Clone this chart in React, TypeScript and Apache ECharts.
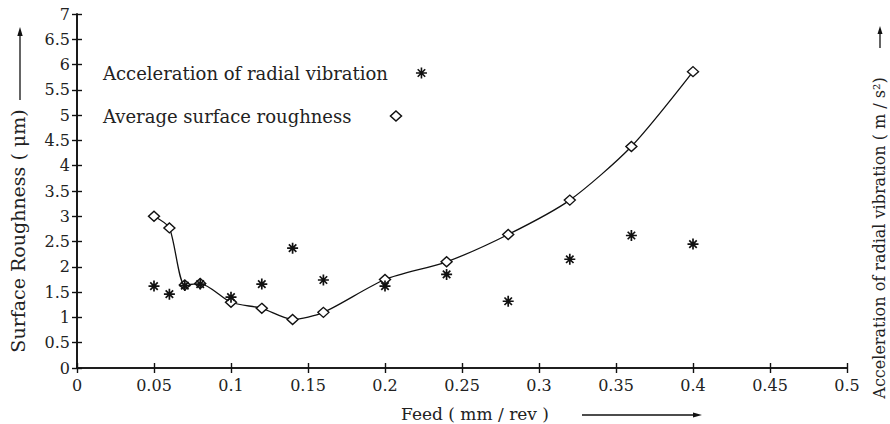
import React, { useEffect, useRef } from "react";
import * as echarts from "echarts";

const feed = [0.05, 0.06, 0.07, 0.08, 0.1, 0.12, 0.14, 0.16, 0.2, 0.24, 0.28, 0.32, 0.36, 0.4];
const roughness = [3.0, 2.77, 1.64, 1.67, 1.3, 1.18, 0.96, 1.1, 1.75, 2.1, 2.64, 3.32, 4.38, 5.86];
const acceleration = [1.62, 1.46, 1.63, 1.66, 1.4, 1.66, 2.37, 1.74, 1.62, 1.85, 1.32, 2.15, 2.62, 2.45];

const accelName = "Acceleration of radial vibration";
const roughName = "Average surface roughness";
const xTitle = "Feed ( mm / rev )";
const yTitle = "Surface Roughness ( \u03bcm)";
const y2Title = "Acceleration of radial vibration ( m / s\u00b2)";

const FONT = "'DejaVu Serif', 'Liberation Serif', serif";
const ASTERISK = "path://M5,0L5,10M0,5L10,5M1.6,1.6L8.4,8.4M1.6,8.4L8.4,1.6";

export default function App() {
  const ref = useRef<HTMLDivElement>(null);
  useEffect(() => {
    if (!ref.current) return;
    const chart = echarts.init(ref.current, null, { renderer: "svg" });
    const axisCommon = {
      type: "value" as const,
      splitLine: { show: false },
      axisLine: { show: true, lineStyle: { color: "#111", width: 1.6 } },
      axisTick: { show: true, inside: true, length: 5, lineStyle: { color: "#111", width: 1.4 } },
    };
    const arrowHead = (pts: number[][]) => ({
      type: "polygon",
      shape: { points: pts },
      style: { fill: "#111" },
    });
    chart.setOption({
      animation: false,
      backgroundColor: "#fff",
      textStyle: { fontFamily: FONT },
      grid: { left: 77, right: 43, top: 14, bottom: 56, containLabel: false },
      xAxis: [
        {
          ...axisCommon,
          position: "bottom",
          min: 0,
          max: 0.5,
          interval: 0.05,
          axisLabel: { margin: 9, color: "#222", fontSize: 16, fontFamily: FONT },
        },
        {
          ...axisCommon,
          position: "top",
          min: 0,
          max: 0.5,
          interval: 0.05,
          axisLabel: { show: false },
        },
      ],
      yAxis: [
        {
          ...axisCommon,
          position: "left",
          min: 0,
          max: 7,
          interval: 0.5,
          axisLabel: { margin: 7, color: "#222", fontSize: 16, fontFamily: FONT },
        },
        {
          ...axisCommon,
          position: "right",
          min: 0,
          max: 7,
          interval: 0.5,
          axisLabel: { show: false },
        },
      ],
      legend: [
        {
          left: 103,
          top: 64,
          padding: 0,
          itemWidth: 11,
          itemHeight: 11,
          align: "right",
          textStyle: { fontSize: 18, fontFamily: FONT, color: "#222", padding: [0, 23, 0, 0] },
          data: [
            {
              name: accelName,
              icon: ASTERISK,
              itemStyle: { color: "#111", borderColor: "#111", borderWidth: 1.6 },
            },
          ],
        },
        {
          left: 103,
          top: 107,
          padding: 0,
          itemWidth: 11,
          itemHeight: 10,
          align: "right",
          textStyle: { fontSize: 18, fontFamily: FONT, color: "#222", padding: [0, 34, 0, 0] },
          data: [
            {
              name: roughName,
              icon: "diamond",
              itemStyle: { color: "#fff", borderColor: "#111", borderWidth: 1.5 },
            },
          ],
        },
      ],
      series: [
        {
          name: roughName,
          type: "line",
          data: feed.map((f, i) => [f, roughness[i]]),
          smooth: 0.25,
          symbol: "diamond",
          symbolSize: [11, 10],
          lineStyle: { color: "#111", width: 1.3 },
          itemStyle: { color: "#fff", borderColor: "#111", borderWidth: 1.4 },
          z: 3,
        },
        {
          name: accelName,
          type: "scatter",
          data: feed.map((f, i) => [f, acceleration[i]]),
          symbol: ASTERISK,
          symbolSize: 11,
          itemStyle: { color: "#111", borderColor: "#111", borderWidth: 1.7, opacity: 1 },
          z: 4,
        },
      ],
      graphic: [
        {
          type: "text",
          x: 18,
          y: 231,
          rotation: Math.PI / 2,
          style: {
            text: yTitle,
            fontSize: 19,
            fontFamily: FONT,
            fill: "#222",
            align: "center",
            verticalAlign: "middle",
          },
        },
        { type: "line", shape: { x1: 20, y1: 100, x2: 20, y2: 34 }, style: { stroke: "#111", lineWidth: 1.3 } },
        arrowHead([[20, 27], [17.3, 36], [22.7, 36]]),
        {
          type: "text",
          x: 879,
          y: 238,
          rotation: Math.PI / 2,
          style: {
            text: y2Title,
            fontSize: 16,
            fontFamily: FONT,
            fill: "#222",
            align: "center",
            verticalAlign: "middle",
          },
        },
        { type: "line", shape: { x1: 880, y1: 48, x2: 880, y2: 33 }, style: { stroke: "#111", lineWidth: 1.3 } },
        arrowHead([[880, 26], [877.5, 34], [882.5, 34]]),
        {
          type: "text",
          x: 475,
          y: 414,
          style: {
            text: xTitle,
            fontSize: 17,
            fontFamily: FONT,
            fill: "#222",
            align: "center",
            verticalAlign: "middle",
          },
        },
        { type: "line", shape: { x1: 582, y1: 415, x2: 694, y2: 415 }, style: { stroke: "#111", lineWidth: 1.3 } },
        arrowHead([[702, 415], [693, 412.5], [693, 417.5]]),
      ],
    });
    return () => chart.dispose();
  }, []);
  return (
    <div
      ref={ref}
      style={{ position: "fixed", left: 0, top: 0, width: 890, height: 424, background: "#fff" }}
    />
  );
}
